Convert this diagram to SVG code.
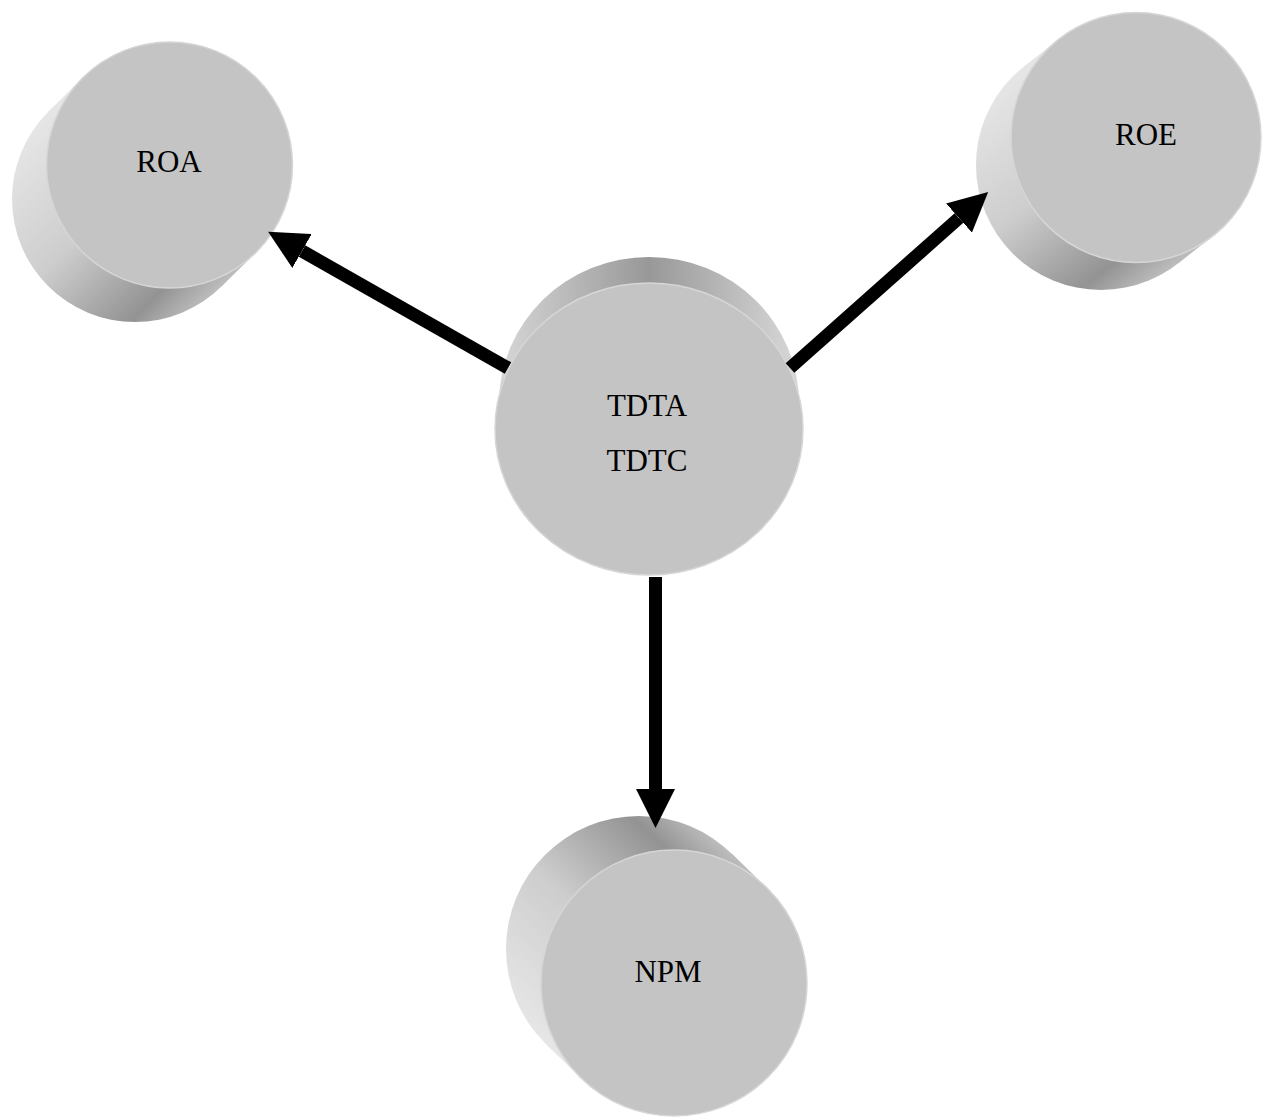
<svg xmlns="http://www.w3.org/2000/svg" xmlns:xlink="http://www.w3.org/1999/xlink" width="1265" height="1119" viewBox="0 0 1265 1119">
<style>
.face{fill:#c4c4c4;stroke:#d6d6d6;stroke-width:1.5}
.lbl{font-family:"Liberation Serif","Times New Roman",serif;font-size:31px;fill:#000;text-anchor:middle}
.conn{stroke:#000;stroke-width:13;fill:none;marker-end:url(#arrow)}
</style>
<defs>
<linearGradient id="shade">
<stop offset="0" stop-color="#e6e6e6"/>
<stop offset="0.45" stop-color="#cdcdcd"/>
<stop offset="0.84" stop-color="#939393"/>
<stop offset="1" stop-color="#bdbdbd"/>
</linearGradient>
<linearGradient id="gROA" href="#shade" xlink:href="#shade" gradientUnits="userSpaceOnUse" x1="48" y1="112" x2="222" y2="286"/>
<linearGradient id="gROE" href="#shade" xlink:href="#shade" gradientUnits="userSpaceOnUse" x1="1023.7" y1="66.7" x2="1178.3" y2="263.3"/>
<linearGradient id="gNPM" href="#shade" xlink:href="#shade" gradientUnits="userSpaceOnUse" x1="546.3" y1="1044.4" x2="731.7" y2="853.6"/>
<linearGradient id="gTD" gradientUnits="userSpaceOnUse" x1="495" y1="0" x2="803" y2="0">
<stop offset="0" stop-color="#d8d8d8"/>
<stop offset="0.5" stop-color="#989898"/>
<stop offset="1" stop-color="#dadada"/>
</linearGradient>
<marker id="arrow" markerUnits="userSpaceOnUse" viewBox="0 0 39 39" markerWidth="39" markerHeight="39" refX="0" refY="19.5" orient="auto">
<path d="M0,0 L39,19.5 L0,39 Z" fill="#000"/>
</marker>
</defs>

<g id="node-roa">
<circle fill="url(#gROA)" cx="135" cy="199" r="123"/>
<polygon fill="url(#gROA)" points="48,112 82.5,78 256.5,252 222,286"/>
<circle class="face" cx="169.5" cy="165" r="123"/>
<text class="lbl" x="169" y="172">ROA</text>
</g>

<g id="node-roe">
<circle fill="url(#gROE)" cx="1101" cy="165" r="125"/>
<polygon fill="url(#gROE)" points="1023.7,66.7 1058.7,39.2 1213.3,235.8 1178.3,263.3"/>
<circle class="face" cx="1136" cy="137.5" r="125"/>
<text class="lbl" x="1146" y="145">ROE</text>
</g>

<g id="node-tdta">
<ellipse fill="url(#gTD)" cx="649" cy="403" rx="150" ry="146"/>
<polygon fill="url(#gTD)" points="499,403 799,403 803,429 495,429"/>
<ellipse class="face" cx="649" cy="429" rx="154" ry="146"/>
<text class="lbl" x="647" y="416">TDTA</text>
<text class="lbl" x="647" y="471">TDTC</text>
</g>

<g id="node-npm">
<circle fill="url(#gNPM)" cx="639" cy="949" r="133"/>
<polygon fill="url(#gNPM)" points="546.3,1044.4 581.3,1078.4 766.7,887.6 731.7,853.6"/>
<circle class="face" cx="674" cy="983" r="133"/>
<text class="lbl" x="668" y="982">NPM</text>
</g>

<g id="connectors">
<path class="conn" d="M508,368 L302,251"/>
<path class="conn" d="M790,368 L959,218"/>
<path class="conn" d="M655.5,577 L655.5,789"/>
</g>
</svg>
